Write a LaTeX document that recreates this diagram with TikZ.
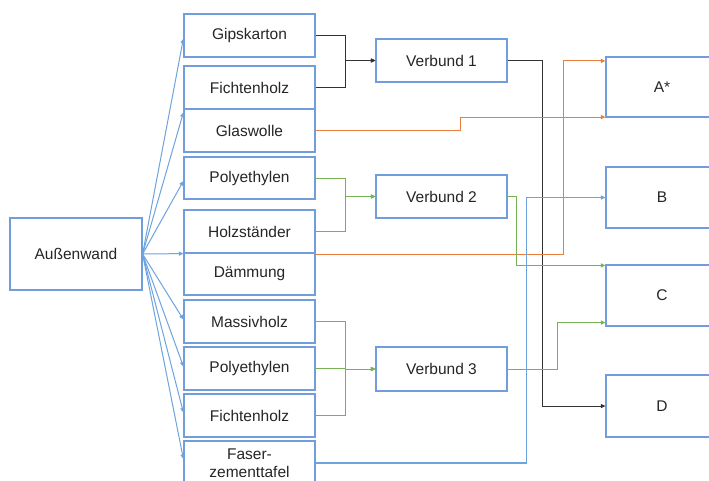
\documentclass[tikz,border=0pt]{standalone}
\usepackage{fontspec}
\setmainfont{Liberation Sans}
\usetikzlibrary{arrows.meta,calc}
\definecolor{boxblue}{RGB}{114,157,220}
\definecolor{lnblue}{RGB}{110,164,222}
\definecolor{lnorange}{RGB}{232,125,60}
\definecolor{lngreen}{RGB}{118,178,84}
\definecolor{lnblack}{RGB}{50,50,50}
\tikzset{
  box/.style={draw=boxblue, line width=1.2pt, fill=white, inner sep=0pt,
    font=\fontsize{15.5}{18}\selectfont, text=black!85, align=center},
  lbox/.style={box, minimum width=131pt, minimum height=43pt},
  rbox/.style={box, minimum width=112pt, minimum height=61pt},
  con/.style={line width=1pt, -{Triangle[length=4.5pt,width=4pt]}},
  blk/.style={con, draw=lnblack, color=lnblack},
  org/.style={con, color=lnorange},
  grn/.style={con, color=lngreen},
  blu/.style={con, color=lnblue},
}
\begin{document}
\begin{tikzpicture}[x=1pt,y=-1pt]
\useasboundingbox (0,0) rectangle (709,480);
\clip (0,0) rectangle (709,480);
\fill[white] (0,0) rectangle (709,480);
\node[box, minimum width=132pt, minimum height=72pt] (aw) at (76,254) {Außenwand};
\node[lbox] (gips) at (249.5,35.5) {Gipskarton};
\node[lbox] (fich1) at (249.5,87.5) {Fichtenholz};
\node[lbox] (glas) at (249.5,130.5) {Glaswolle};
\node[lbox, minimum height=42pt] (poly1) at (249.5,178) {Polyethylen};
\node[lbox] (holz) at (249.5,231.5) {Holzständer};
\node[lbox, minimum height=42pt] (daem) at (249.5,274) {Dämmung};
\node[lbox] (mass) at (249.5,321.5) {Massivholz};
\node[lbox] (poly2) at (249.5,368.5) {Polyethylen};
\node[lbox] (fich2) at (249.5,415.5) {Fichtenholz};
\node[lbox, minimum height=44pt] (faser) at (249.5,463) {Faser-\\zementtafel};
\node[lbox] (v1) at (441.5,60.5) {Verbund 1};
\node[lbox] (v2) at (441.5,196.5) {Verbund 2};
\node[lbox, minimum height=44pt] (v3) at (441.5,369) {Verbund 3};
\node[rbox, minimum height=60pt] (A) at (662,87) {A*};
\node[rbox] (B) at (662,197.5) {B};
\node[rbox] (C) at (662,295.5) {C};
\node[rbox, minimum height=62pt] (D) at (662,406) {D};
% fan
\draw[blu] (aw.east) -- ($(gips.west)+(0,3)$);
\draw[blu] (aw.east) -- ($(glas.north west)+(0,4)$);
\draw[blu] (aw.east) -- ($(poly1.west)+(0,3)$);
\draw[blu] (aw.east) -- (holz.south west);
\draw[blu] (aw.east) -- ($(mass.west)+(0,-2)$);
\draw[blu] (aw.east) -- ($(poly2.west)+(0,-2)$);
\draw[blu] (aw.east) -- ($(fich2.west)+(0,-3)$);
\draw[blu] (aw.east) -- ($(faser.west)+(0,-4)$);
% Verbund 1
\draw[blk] (gips.east) -- ++(30,0) |- (v1.west);
\draw[blk] (fich1.east) -- ++(30,0) |- (v1.west);
\draw[blk] (v1.east) -- ++(35,0) |- (D.west);
% orange
\draw[org] (glas.east) -- ++(145,0) |- ($(A.south west)+(0,-0.5)$);
\draw[org] ($(holz.south east)+(0,0.5)$) -- ++(248,0) |- ($(A.north west)+(0,4.5)$);
% Verbund 2
\draw[grn] (poly1.east) -- ++(30,0) |- (v2.west);
\draw[grn] (holz.east) -- ++(30,0) |- (v2.west);
\draw[grn] (v2.east) -- ++(9,0) |- ($(C.north west)+(0,1)$);
% Verbund 3
\draw[grn] (mass.east) -- ++(30,0) |- (v3.west);
\draw[grn] (poly2.east) -- ++(30,0) |- (v3.west);
\draw[grn] (fich2.east) -- ++(30,0) |- (v3.west);
\draw[grn] (v3.east) -- ++(50,0) |- ($(C.south west)+(0,-4)$);
% Faserzementtafel
\draw[blu, line width=1.2pt] (faser.east) -- ++(211,0) |- (B.west);
\end{tikzpicture}
\end{document}
